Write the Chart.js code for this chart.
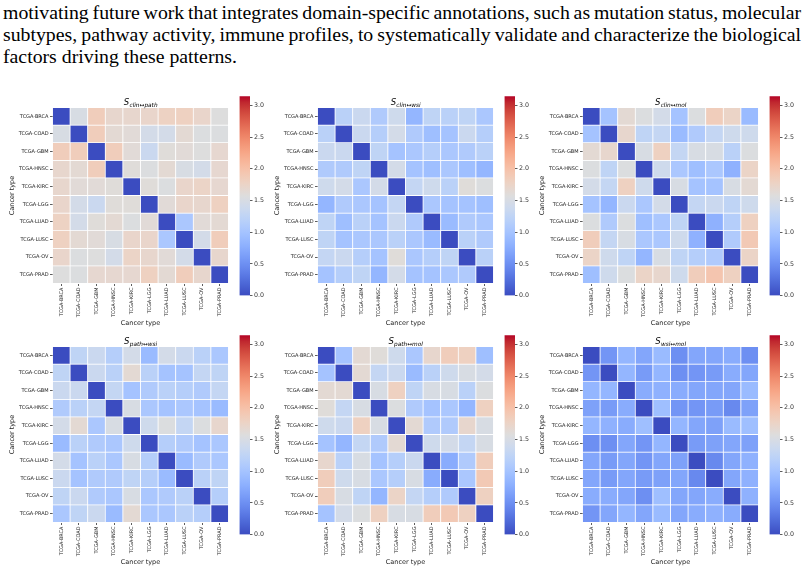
<!DOCTYPE html>
<html>
<head>
<meta charset="utf-8">
<script src="https://cdn.jsdelivr.net/npm/chart.js@4.4.0/dist/chart.umd.min.js"></script>
<style>
  body { margin: 0; background: #fff; width: 805px; height: 572px; position: relative; overflow: hidden; }
  .txt { position: absolute; left: 3px; top: 1px; font-family: "Liberation Serif", "Times New Roman", serif; font-size: 19.8px; line-height: 22px; color: #000; }
  .txt span { display: block; white-space: nowrap; width: max-content; }
  canvas { position: absolute; }
</style>
</head>
<body>
<div class="txt">
  <span class="fit">motivating future work that integrates domain-specific annotations, such as mutation status, molecular</span>
  <span class="fit">subtypes, pathway activity, immune profiles, to systematically validate and characterize the biological</span>
  <span>factors driving these patterns.</span>
</div>
<script>
const cancerTypes = ['TCGA-BRCA', 'TCGA-COAD', 'TCGA-GBM', 'TCGA-HNSC', 'TCGA-KIRC',
                     'TCGA-LGG', 'TCGA-LUAD', 'TCGA-LUSC', 'TCGA-OV', 'TCGA-PRAD'];

const clinPath = [
  [0, 1.50, 1.85, 1.70, 1.70, 1.72, 1.78, 1.80, 1.72, 1.57],
  [1.50, 0, 1.85, 1.65, 1.62, 1.45, 1.45, 1.65, 1.55, 1.55],
  [1.85, 1.85, 0, 1.85, 1.62, 1.35, 1.60, 1.62, 1.57, 1.68],
  [1.70, 1.65, 1.85, 0, 1.60, 1.55, 1.65, 1.50, 1.45, 1.68],
  [1.70, 1.62, 1.62, 1.60, 0, 1.60, 1.55, 1.72, 1.75, 1.68],
  [1.72, 1.45, 1.35, 1.60, 1.60, 0, 1.62, 1.72, 1.70, 1.80],
  [1.78, 1.45, 1.60, 1.65, 1.55, 1.62, 0, 1.05, 1.62, 1.65],
  [1.80, 1.65, 1.62, 1.50, 1.72, 1.72, 1.05, 0, 1.45, 1.85],
  [1.72, 1.55, 1.57, 1.45, 1.75, 1.70, 1.62, 1.45, 0, 1.70],
  [1.57, 1.55, 1.68, 1.68, 1.68, 1.80, 1.65, 1.85, 1.70, 0]
];
const clinWsi = [
  [0, 1.20, 1.35, 1.10, 1.40, 0.85, 1.25, 1.20, 1.25, 1.05],
  [1.20, 0, 1.35, 1.15, 1.45, 1.10, 0.95, 1.00, 1.35, 1.15],
  [1.35, 1.35, 0, 1.25, 1.00, 1.05, 1.15, 1.05, 1.10, 1.20],
  [1.10, 1.10, 1.25, 0, 1.45, 1.00, 0.95, 1.05, 0.95, 0.85],
  [1.40, 1.45, 1.05, 1.45, 0, 1.30, 1.40, 1.20, 1.60, 1.55],
  [0.85, 1.10, 1.05, 1.00, 1.30, 0, 1.05, 1.00, 1.00, 0.95],
  [1.25, 0.95, 1.20, 1.00, 1.35, 1.10, 0, 0.90, 1.10, 1.05],
  [1.25, 1.00, 1.05, 1.05, 1.20, 1.05, 0.90, 0, 1.20, 1.10],
  [1.30, 1.35, 1.15, 1.00, 1.60, 1.05, 1.15, 1.25, 0, 1.20],
  [1.00, 1.15, 1.25, 0.85, 1.45, 1.00, 1.00, 1.05, 1.10, 0]
];
const clinMol = [
  [0, 1.00, 1.65, 1.55, 1.45, 1.00, 1.55, 1.85, 1.75, 0.90],
  [1.00, 0, 1.70, 1.25, 1.30, 0.90, 1.10, 1.30, 1.40, 1.40],
  [1.65, 1.70, 0, 1.50, 1.80, 1.30, 1.50, 1.50, 1.20, 1.55],
  [1.55, 1.25, 1.55, 0, 1.40, 1.05, 0.95, 1.05, 0.80, 1.75],
  [1.45, 1.30, 1.80, 1.40, 0, 1.50, 1.00, 1.00, 1.50, 1.65],
  [1.00, 0.85, 1.35, 1.05, 1.45, 0, 1.30, 1.35, 1.25, 1.40],
  [1.55, 1.10, 1.55, 0.95, 1.05, 1.25, 0, 0.80, 1.15, 1.80],
  [1.85, 1.30, 1.50, 1.05, 1.05, 1.40, 0.80, 0, 1.10, 1.90],
  [1.75, 1.40, 1.25, 0.85, 1.50, 1.25, 1.15, 1.10, 0, 1.75],
  [0.95, 1.40, 1.55, 1.75, 1.70, 1.40, 1.85, 1.95, 1.80, 0]
];
const pathWsi = [
  [0, 1.25, 1.35, 1.15, 1.45, 0.90, 1.45, 1.35, 1.20, 1.05],
  [1.25, 0, 1.35, 1.20, 1.65, 1.20, 1.00, 1.00, 1.30, 1.25],
  [1.35, 1.35, 0, 1.30, 1.00, 1.10, 1.20, 1.15, 1.10, 1.30],
  [1.10, 1.20, 1.30, 0, 1.50, 1.05, 1.00, 1.05, 1.00, 0.90],
  [1.45, 1.65, 1.05, 1.50, 0, 1.40, 1.55, 1.30, 1.55, 1.70],
  [0.90, 1.20, 1.10, 1.05, 1.40, 0, 1.15, 1.10, 1.00, 1.05],
  [1.45, 1.00, 1.20, 1.05, 1.50, 1.15, 0, 0.90, 1.10, 1.05],
  [1.35, 1.00, 1.10, 1.10, 1.25, 1.15, 0.90, 0, 1.20, 1.25],
  [1.25, 1.35, 1.10, 1.05, 1.50, 1.05, 1.10, 1.20, 0, 1.15],
  [1.05, 1.25, 1.35, 0.90, 1.65, 1.05, 1.05, 1.20, 1.15, 0]
];
const pathMol = [
  [0, 1.00, 1.65, 1.60, 1.40, 1.05, 1.70, 1.85, 1.80, 0.95],
  [1.00, 0, 1.65, 1.30, 1.35, 0.90, 1.20, 1.40, 1.50, 1.45],
  [1.65, 1.65, 0, 1.50, 1.80, 1.25, 1.50, 1.50, 1.20, 1.55],
  [1.60, 1.30, 1.50, 0, 1.55, 1.10, 1.00, 1.05, 0.85, 1.80],
  [1.40, 1.35, 1.80, 1.50, 0, 1.65, 1.10, 1.10, 1.70, 1.50],
  [1.00, 0.85, 1.30, 1.10, 1.65, 0, 1.40, 1.45, 1.30, 1.50],
  [1.70, 1.20, 1.50, 1.00, 1.15, 1.35, 0, 0.75, 1.10, 1.85],
  [1.85, 1.40, 1.50, 1.05, 1.15, 1.50, 0.75, 0, 1.05, 1.90],
  [1.85, 1.50, 1.25, 0.85, 1.75, 1.30, 1.15, 1.10, 0, 1.80],
  [1.00, 1.45, 1.55, 1.80, 1.50, 1.50, 1.85, 1.90, 1.80, 0]
];
const wsiMol = [
  [0, 0.55, 0.85, 0.70, 0.90, 0.50, 0.70, 0.70, 0.75, 0.50],
  [0.55, 0, 0.85, 0.60, 0.85, 0.50, 0.55, 0.60, 0.75, 0.70],
  [0.85, 0.85, 0, 0.75, 0.80, 0.75, 0.70, 0.70, 0.70, 0.90],
  [0.65, 0.60, 0.75, 0, 0.95, 0.55, 0.55, 0.60, 0.45, 0.65],
  [0.85, 0.80, 0.75, 0.95, 0, 0.85, 0.70, 0.65, 0.90, 0.95],
  [0.50, 0.50, 0.70, 0.55, 0.85, 0, 0.60, 0.65, 0.70, 0.65],
  [0.70, 0.60, 0.70, 0.55, 0.70, 0.65, 0, 0.45, 0.70, 0.80],
  [0.70, 0.60, 0.70, 0.60, 0.65, 0.70, 0.45, 0, 0.70, 0.80],
  [0.75, 0.75, 0.70, 0.50, 0.95, 0.70, 0.70, 0.75, 0, 0.80],
  [0.55, 0.70, 0.85, 0.70, 0.90, 0.70, 0.75, 0.80, 0.75, 0]
];

const panels = [
  { sub: 'clin\u2194path', values: clinPath },
  { sub: 'clin\u2194wsi', values: clinWsi },
  { sub: 'clin\u2194mol', values: clinMol },
  { sub: 'path\u2194wsi', values: pathWsi },
  { sub: 'path\u2194mol', values: pathMol },
  { sub: 'wsi\u2194mol', values: wsiMol }
];

const VMAX = Math.PI;
const cbarTicks = [0, 0.5, 1, 1.5, 2, 2.5, 3];

// justified paragraph lines: stretch word gaps to the column width
document.querySelectorAll('.txt .fit').forEach(el => {
  const gaps = el.textContent.split(' ').length - 1;
  const extra = 798 - el.getBoundingClientRect().width;
  el.style.wordSpacing = (extra / gaps) + 'px';
});

// coolwarm, 33 evenly spaced stops
const coolwarmStops = [
  [59,76,192],[68,90,204],[77,104,215],[87,117,225],[98,130,234],[108,142,241],[119,154,247],[130,165,251],
  [141,176,254],[152,185,255],[163,194,255],[174,201,253],[184,208,249],[194,213,244],[204,217,238],[213,219,230],
  [221,221,221],[229,216,209],[236,211,197],[241,204,185],[245,196,173],[247,187,160],[247,177,148],[247,166,135],
  [244,154,123],[241,141,111],[236,127,99],[229,112,88],[222,96,77],[213,80,66],[203,62,56],[192,40,47],[180,4,38]
];
function coolwarm(t) {
  t = Math.max(0, Math.min(1, t));
  const x = t * 32, i = Math.min(31, Math.floor(x)), f = x - i;
  const a = coolwarmStops[i], b = coolwarmStops[i + 1];
  return 'rgb(' + a.map((c, k) => Math.round(c + (b[k] - c) * f)).join(',') + ')';
}

const tickFont = { family: 'DejaVu Sans', size: 5 };
const labelFont = { family: 'DejaVu Sans', size: 6.5 };

function addCanvas(left, top, w, h) {
  const c = document.createElement('canvas');
  c.width = w; c.height = h;
  c.style.left = left + 'px'; c.style.top = top + 'px';
  c.style.width = w + 'px'; c.style.height = h + 'px';
  document.body.appendChild(c);
  return c;
}

// S with a subscript, drawn above the heatmap
const mathTitle = {
  id: 'mathTitle',
  afterDraw(chart, args, opts) {
    const { ctx, chartArea } = chart;
    ctx.save();
    const big = 'italic 8.5px "DejaVu Sans"', small = 'italic 5.8px "DejaVu Sans"';
    ctx.font = big; const w1 = ctx.measureText('S').width;
    ctx.font = small; const w2 = ctx.measureText(opts.sub).width;
    const x = (chartArea.left + chartArea.right) / 2 - (w1 + w2) / 2;
    const y = chartArea.top - 2.5;
    ctx.fillStyle = '#000';
    ctx.font = big; ctx.fillText('S', x, y);
    ctx.font = small; ctx.fillText(opts.sub, x + w1 + 0.3, y + 1.5);
    ctx.restore();
  }
};

function makeHeatmap(p, hx, hy) {
  const canvas = addCanvas(hx - 52.5, hy - 17.5, 232, 242);
  new Chart(canvas, {
    type: 'bar',
    data: {
      labels: cancerTypes,
      datasets: p.values.map((row, r) => ({
        data: row.map(() => [r, r + 1]),
        backgroundColor: row.map(v => coolwarm(v / VMAX)),
        borderColor: '#fff',
        borderWidth: 0.75,
        borderSkipped: false,
        grouped: false,
        barPercentage: 1,
        categoryPercentage: 1
      }))
    },
    options: {
      responsive: false,
      animation: false,
      layout: { padding: { top: 17.5, right: 3.5, left: 0, bottom: 0 } },
      plugins: { legend: { display: false }, tooltip: { enabled: false }, mathTitle: { sub: p.sub } },
      scales: {
        x: {
          ticks: { font: tickFont, color: '#222', minRotation: 90, maxRotation: 90, autoSkip: false, padding: 1.5 },
          grid: { offset: false, drawOnChartArea: false, tickLength: 2.5, tickColor: '#333', tickWidth: 0.8 },
          border: { display: false },
          title: { display: true, text: 'Cancer type', font: labelFont, color: '#222', padding: { top: 0, bottom: 5 } },
          afterFit: s => { s.height = 48.5; }
        },
        y: {
          type: 'linear', min: 0, max: 10, reverse: true,
          afterBuildTicks: s => { s.ticks = cancerTypes.map((_, i) => ({ value: i + 0.5 })); },
          ticks: { callback: v => cancerTypes[Math.floor(v)], font: tickFont, color: '#222', padding: 1.5 },
          grid: { drawOnChartArea: false, tickLength: 2.5, tickColor: '#333', tickWidth: 0.8 },
          border: { display: false },
          title: { display: true, text: 'Cancer type', font: labelFont, color: '#222', padding: { top: 8.8, bottom: 0 } },
          afterFit: s => { s.width = 52.5; }
        }
      }
    },
    plugins: [mathTitle]
  });
}

function makeColorbar(cx, cy) {
  const left = Math.floor(cx);
  const canvas = addCanvas(left, cy - 5, 42, 210);
  new Chart(canvas, {
    type: 'bar',
    data: {
      labels: [''],
      datasets: [{
        data: [[0, VMAX]],
        backgroundColor: c => {
          const { ctx, chartArea } = c.chart;
          if (!chartArea) return null;
          const g = ctx.createLinearGradient(0, chartArea.bottom, 0, chartArea.top);
          coolwarmStops.forEach((s, i) => g.addColorStop(i / 32, 'rgb(' + s.join(',') + ')'));
          return g;
        },
        borderWidth: 0,
        barPercentage: 1,
        categoryPercentage: 1
      }]
    },
    options: {
      responsive: false,
      animation: false,
      layout: { padding: { top: 5, bottom: 5, left: cx - left, right: 0 } },
      plugins: { legend: { display: false }, tooltip: { enabled: false } },
      scales: {
        x: { display: false },
        y: {
          position: 'right', min: 0, max: VMAX,
          afterBuildTicks: s => { s.ticks = cbarTicks.map(v => ({ value: v })); },
          ticks: { callback: v => v.toFixed(1), font: { family: 'DejaVu Sans', size: 6.3 }, color: '#333', padding: 1.5 },
          grid: { drawOnChartArea: false, tickLength: 2.5, tickColor: '#333', tickWidth: 0.8 },
          border: { display: false },
          afterFit: s => { s.width = 42 - 10.5 - (cx - left); }
        }
      }
    }
  });
}

const colX = [52.5, 317.5, 582.5];
const rowY = [107.5, 346.5];
panels.forEach((p, k) => {
  const hx = colX[k % 3], hy = rowY[Math.floor(k / 3)];
  makeHeatmap(p, hx, hy);
  makeColorbar(hx + 187, hy - 11.5);
});
</script>
</body>
</html>
